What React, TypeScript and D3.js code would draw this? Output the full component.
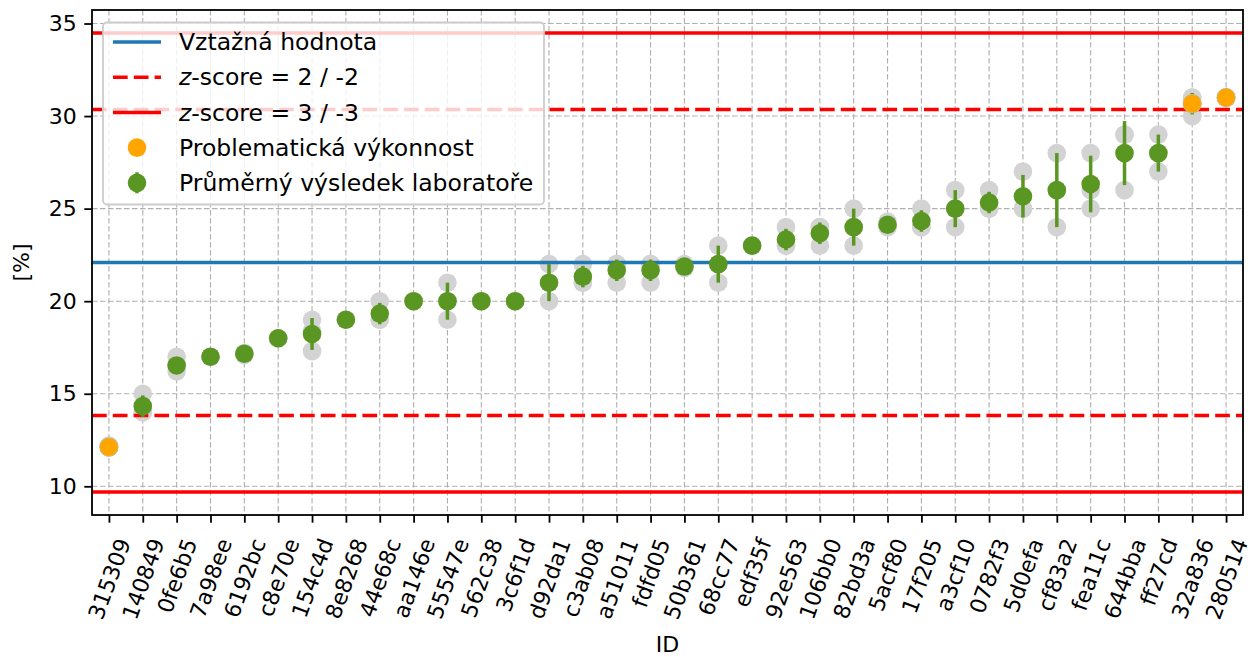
import React, { useEffect, useRef } from 'react'
import * as d3 from 'd3'

// Lab IDs, ordered by mean result
const labs = [
  '315309', '140849', '0fe6b5', '7a98ee', '6192bc', 'c8e70e', '154c4d', '8e8268',
  '44e68c', 'aa146e', '55547e', '562c38', '3c6f1d', 'd92da1', 'c3ab08', 'a51011',
  'fdfd05', '50b361', '68cc77', 'edf35f', '92e563', '106bb0', '82bd3a', '5acf80',
  '17f205', 'a3cf10', '0782f3', '5d0efa', 'cf83a2', 'fea11c', '644bba', 'ff27cd',
  '32a836', '280514',
]

// individual results of each lab (grey dots)
const results = [
  [12.2, 12.1], [15, 14, 14], [17, 16.5, 16.2], [17, 17], [17.2, 17.1], [18, 18],
  [19, 18.4, 17.3], [19, 19], [20, 19, 19], [20, 20], [21, 20, 19], [20, 20],
  [20, 20], [22, 21, 20], [22, 21, 21], [22, 22, 21], [22, 22, 21], [22, 21.9, 21.8],
  [23, 22, 21], [23, 23], [24, 23, 23], [24, 24, 23], [25, 24, 23], [24.3, 24.1, 24],
  [25, 24, 24], [26, 25, 24], [26, 25, 25], [27, 25, 25], [28, 26, 24], [28, 26, 25],
  [29, 29, 26], [29, 28, 27], [31, 31, 30], [31, 31],
]

// mean result and its error bar
const means = [
  12.12, 14.33, 16.53, 17.0, 17.16, 18.0, 18.23, 19.0, 19.33, 20.0, 20.0, 20.0,
  20.0, 21.0, 21.33, 21.67, 21.67, 21.87, 22.0, 23.0, 23.33, 23.67, 24.0, 24.13,
  24.33, 25.0, 25.33, 25.67, 26.0, 26.33, 28.0, 28.0, 30.67, 31.0,
]
const errors = [
  0.05, 0.58, 0.4, 0, 0.05, 0, 0.86, 0, 0.58, 0, 1.0, 0,
  0, 1.0, 0.58, 0.58, 0.58, 0.1, 1.0, 0, 0.58, 0.58, 1.0, 0.15,
  0.58, 1.0, 0.58, 1.15, 2.0, 1.53, 1.73, 1.0, 0.58, 0,
]

const problematic = ['315309', '32a836', '280514']

const referenceValue = 22.09
const zScore2Lines = [30.36, 13.82]
const zScore3Lines = [34.49, 9.69]
const yTicks = [10, 15, 20, 25, 30, 35]

const legendItems = [
  { kind: 'line', color: '#1f77b4', dash: '', label: 'Vztažná hodnota' },
  { kind: 'line', color: '#ff0000', dash: '14.7 6.1', label: '-score = 2 / -2' },
  { kind: 'line', color: '#ff0000', dash: '', label: '-score = 3 / -3' },
  { kind: 'dot', color: '#ffa500', dash: '', label: 'Problematická výkonnost' },
  { kind: 'errdot', color: '#5a9622', dash: '', label: 'Průměrný výsledek laboratoře' },
]

const width = 1248
const height = 657
const FONT = 'DejaVu Sans, sans-serif'
const FS = 22
const LEGEND_FS = 23.5
const GREEN = '#5a9622'
const GREY = '#d3d3d3'
const ORANGE = '#ffa500'

export default function App() {
  const svgRef = useRef<SVGSVGElement>(null)

  useEffect(() => {
    if (!svgRef.current) return
    const root = d3.select(svgRef.current)
    root.selectAll('*').remove()

    const margin = { top: 10, right: 5, bottom: 142, left: 92 }
    const innerWidth = width - margin.left - margin.right
    const innerHeight = height - margin.top - margin.bottom

    const svg = root
      .append('g')
      .attr('transform', `translate(${margin.left},${margin.top})`)

    const x = d3.scalePoint<string>().domain(labs).range([0, innerWidth]).padding(0.5)

    // matplotlib-like 5% margin around the outermost lines
    const lo = d3.min(zScore3Lines) as number
    const hi = d3.max(zScore3Lines) as number
    const pad = (hi - lo) * 0.05
    const y = d3.scaleLinear().domain([lo - pad, hi + pad]).range([innerHeight, 0])

    // grid
    const grid = svg.append('g')
    grid
      .selectAll('.gx')
      .data(labs)
      .join('line')
      .attr('x1', (d) => x(d) as number)
      .attr('x2', (d) => x(d) as number)
      .attr('y1', 0)
      .attr('y2', innerHeight)
    grid
      .selectAll('.gy')
      .data(yTicks)
      .join('line')
      .attr('x1', 0)
      .attr('x2', innerWidth)
      .attr('y1', (d) => y(d))
      .attr('y2', (d) => y(d))
    grid
      .selectAll('line')
      .attr('stroke', '#b0b0b0')
      .attr('stroke-width', 1.1)
      .attr('stroke-dasharray', '5.5 2.5')

    // individual results
    const points = labs.flatMap((lab, i) => results[i].map((v) => ({ lab, v })))
    svg
      .selectAll('.res')
      .data(points)
      .join('circle')
      .attr('cx', (d) => x(d.lab) as number)
      .attr('cy', (d) => y(d.v))
      .attr('r', 9.3)
      .attr('fill', GREY)

    // reference and z-score lines
    const hline = (v: number, color: string, dash: string) =>
      svg
        .append('line')
        .attr('x1', 0)
        .attr('x2', innerWidth)
        .attr('y1', y(v))
        .attr('y2', y(v))
        .attr('stroke', color)
        .attr('stroke-width', 3.5)
        .attr('stroke-dasharray', dash || null)
    hline(referenceValue, '#1f77b4', '')
    zScore2Lines.forEach((v) => hline(v, '#ff0000', '14.7 6.1'))
    zScore3Lines.forEach((v) => hline(v, '#ff0000', ''))

    // error bars + means
    svg
      .selectAll('.err')
      .data(labs)
      .join('line')
      .attr('x1', (d) => x(d) as number)
      .attr('x2', (d) => x(d) as number)
      .attr('y1', (d, i) => y(means[i] - errors[i]))
      .attr('y2', (d, i) => y(means[i] + errors[i]))
      .attr('stroke', GREEN)
      .attr('stroke-width', 3.5)
    svg
      .selectAll('.mean')
      .data(labs)
      .join('circle')
      .attr('cx', (d) => x(d) as number)
      .attr('cy', (d, i) => y(means[i]))
      .attr('r', 9.3)
      .attr('fill', GREEN)

    // problematic labs
    svg
      .selectAll('.prob')
      .data(problematic)
      .join('circle')
      .attr('cx', (d) => x(d) as number)
      .attr('cy', (d) => y(means[labs.indexOf(d)]))
      .attr('r', 9.3)
      .attr('fill', ORANGE)
      .attr('stroke', '#c8c8c8')
      .attr('stroke-width', 0.6)

    // frame
    svg
      .append('rect')
      .attr('width', innerWidth)
      .attr('height', innerHeight)
      .attr('fill', 'none')
      .attr('stroke', '#000')
      .attr('stroke-width', 1.8)

    // Y axis
    const yAxis = svg
      .append('g')
      .call(d3.axisLeft(y).tickValues(yTicks).tickSize(7.7).tickPadding(7.5).tickSizeOuter(0))
    yAxis.select('.domain').remove()
    yAxis.selectAll('line').attr('stroke-width', 1.8)
    yAxis
      .selectAll('text')
      .attr('font-family', FONT)
      .attr('font-size', FS)
      .attr('fill', '#000')

    // X axis with rotated labels
    const xAxis = svg
      .append('g')
      .attr('transform', `translate(0,${innerHeight})`)
      .call(d3.axisBottom(x).tickSize(7.7).tickSizeOuter(0))
    xAxis.select('.domain').remove()
    xAxis.selectAll('line').attr('stroke-width', 1.8)
    const ang = (70 * Math.PI) / 180
    const boxH = FS * 1.164
    xAxis
      .selectAll<SVGTextElement, string>('text')
      .attr('font-family', FONT)
      .attr('font-size', FS)
      .attr('fill', '#000')
      .attr('y', 0)
      .attr('dy', '0.35em')
      .attr('text-anchor', 'middle')
      .attr('transform', function () {
        const L = this.getComputedTextLength()
        const H = L * Math.sin(ang) + boxH * Math.cos(ang)
        return `translate(0,${20 + H / 2}) rotate(-70)`
      })

    // axis titles
    root
      .append('text')
      .attr('x', margin.left + innerWidth / 2)
      .attr('y', 652)
      .attr('text-anchor', 'middle')
      .attr('font-family', FONT)
      .attr('font-size', FS)
      .text('ID')
    root
      .append('text')
      .attr('transform', `translate(21,${margin.top + innerHeight / 2}) rotate(-90)`)
      .attr('dy', '0.35em')
      .attr('text-anchor', 'middle')
      .attr('font-family', FONT)
      .attr('font-size', FS)
      .text('[%]')

    // legend
    const lg = root.append('g').attr('transform', 'translate(103,22.5)')
    lg.append('rect')
      .attr('width', 441)
      .attr('height', 182)
      .attr('rx', 4)
      .attr('fill', '#fff')
      .attr('fill-opacity', 0.8)
      .attr('stroke', '#cccccc')
      .attr('stroke-width', 1.8)
    const rows = lg
      .selectAll('.row')
      .data(legendItems)
      .join('g')
      .attr('transform', (d, i) => `translate(0,${19.5 + i * 35.2})`)
    rows
      .filter((d) => d.kind === 'line')
      .append('line')
      .attr('x1', 10)
      .attr('x2', 58)
      .attr('stroke', (d) => d.color)
      .attr('stroke-width', 3.5)
      .attr('stroke-dasharray', (d) => d.dash || null)
    rows
      .filter((d) => d.kind === 'errdot')
      .append('line')
      .attr('x1', 34)
      .attr('x2', 34)
      .attr('y1', -10.5)
      .attr('y2', 10.5)
      .attr('stroke', (d) => d.color)
      .attr('stroke-width', 3.5)
    rows
      .filter((d) => d.kind !== 'line')
      .append('circle')
      .attr('cx', 34)
      .attr('r', 9.3)
      .attr('fill', (d) => d.color)
    const txt = rows
      .append('text')
      .attr('x', 76)
      .attr('dy', '0.35em')
      .attr('font-family', FONT)
      .attr('font-size', LEGEND_FS)
      .attr('fill', '#000')
    txt.each(function (d) {
      const t = d3.select(this)
      if (d.label.startsWith('-score')) {
        t.append('tspan').attr('font-style', 'italic').text('z')
        t.append('tspan').text(d.label)
      } else {
        t.text(d.label)
      }
    })
  }, [])

  return (
    <svg
      ref={svgRef}
      width={width}
      height={height}
      style={{ position: 'absolute', left: 0, top: 0, background: '#fff' }}
    ></svg>
  )
}
